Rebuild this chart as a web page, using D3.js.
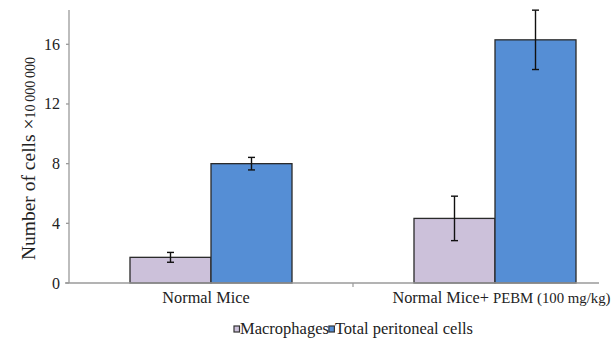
<!DOCTYPE html>
<html><head><meta charset="utf-8">
<script src="https://cdn.jsdelivr.net/npm/d3@7"></script>
<style>body{margin:0;background:#fff}svg{display:block}</style>
</head><body>
<svg id="c" width="615" height="344" font-family="'Liberation Serif', 'Times New Roman', 'DejaVu Serif', serif"></svg>
<script>
const categories = ["Normal Mice", "Normal Mice+ PEBM (100 mg/kg)"];
const seriesNames = ["Macrophages", "Total peritoneal cells"];
const macrophages = [1.72, 4.33];
const macrophagesErr = [0.33, 1.49];
const totalCells = [8.0, 16.3];
const totalCellsErr = [0.42, 1.99];
const yTicks = [0, 4, 8, 12, 16];
const colors = ["#ccc1da", "#558ed5"];

const svg = d3.select("#c");
const y = d3.scaleLinear().domain([0, 18.3]).range([283, 10]);
const x0 = d3.scaleBand().domain(categories).range([69, 637]).paddingInner(0).paddingOuter(0);
const x1 = d3.scaleBand().domain(seriesNames).range([0, x0.bandwidth()]).paddingOuter(0.753).paddingInner(0);

const data = categories.map((c, i) => ({
  c, vals: [
    {s: seriesNames[0], v: macrophages[i], e: macrophagesErr[i], col: colors[0]},
    {s: seriesNames[1], v: totalCells[i], e: totalCellsErr[i], col: colors[1]}
  ]
}));

const g = svg.append("g");
data.forEach(d => {
  d.vals.forEach(b => {
    g.append("rect")
      .attr("x", x0(d.c) + x1(b.s))
      .attr("y", y(b.v))
      .attr("width", x1.bandwidth())
      .attr("height", y(0) - y(b.v))
      .attr("fill", b.col).attr("stroke", "#2a2a2a").attr("stroke-width", 1.3);
  });
});

const axisCol = "#9a9a9a";
svg.append("line").attr("x1", 69).attr("x2", 69).attr("y1", y(18.3)).attr("y2", y(0)).attr("stroke", axisCol).attr("stroke-width", 1.3);
yTicks.forEach(t => {
  svg.append("line").attr("x1", 66).attr("x2", 69).attr("y1", y(t)).attr("y2", y(t)).attr("stroke", axisCol).attr("stroke-width", 1.3);
  svg.append("text").attr("x", 60).attr("y", y(t) + 5.5).attr("text-anchor", "end").attr("font-size", 16).attr("fill", "#222").text(t);
});
svg.append("line").attr("x1", 65).attr("x2", 599).attr("y1", y(0)).attr("y2", y(0)).attr("stroke", axisCol).attr("stroke-width", 1.6);
svg.append("line").attr("x1", x0(categories[1])).attr("x2", x0(categories[1])).attr("y1", y(0)).attr("y2", y(0) + 4).attr("stroke", axisCol).attr("stroke-width", 1.2);

data.forEach(d => {
  d.vals.forEach(b => {
    const cx = x0(d.c) + x1(b.s) + x1.bandwidth() / 2;
    const eg = svg.append("g").attr("stroke", "#111").attr("stroke-width", 1.4);
    eg.append("line").attr("x1", cx).attr("x2", cx).attr("y1", y(b.v + b.e)).attr("y2", y(b.v - b.e));
    eg.append("line").attr("x1", cx - 3.5).attr("x2", cx + 3.5).attr("y1", y(b.v + b.e)).attr("y2", y(b.v + b.e));
    eg.append("line").attr("x1", cx - 3.5).attr("x2", cx + 3.5).attr("y1", y(b.v - b.e)).attr("y2", y(b.v - b.e));
  });
});

svg.append("text").attr("x", x0(categories[0]) + x0.bandwidth() / 2 - 5).attr("y", 303).attr("text-anchor", "middle").attr("font-size", 16.3).attr("fill", "#222").text(categories[0]);
const parts = categories[1].split(" PEBM");
const lab2 = svg.append("text").attr("x", 501.5).attr("y", 303).attr("text-anchor", "middle").attr("font-size", 16.3).attr("fill", "#222");
lab2.append("tspan").text(parts[0] + " ");
lab2.append("tspan").attr("font-size", 14.8).text("PEBM" + parts[1]);

const yt = svg.append("text").attr("transform", "translate(35,158.5) rotate(-90)").attr("text-anchor", "middle").attr("font-size", 19.5).attr("fill", "#222");
yt.append("tspan").text("Number of cells \u00d7");
yt.append("tspan").attr("font-size", 14).text("10\u2009000\u2009000");

let lx = 234;
seriesNames.forEach((s, i) => {
  svg.append("rect").attr("x", lx).attr("y", 326).attr("width", 5.5).attr("height", 6).attr("fill", colors[i]).attr("stroke", "#333").attr("stroke-width", 1.2);
  const t = svg.append("text").attr("x", lx + 6).attr("y", 334).attr("font-size", 16.5).attr("fill", "#222").text(s);
  lx = lx + 6 + t.node().getComputedTextLength();
});
</script>
</body></html>
